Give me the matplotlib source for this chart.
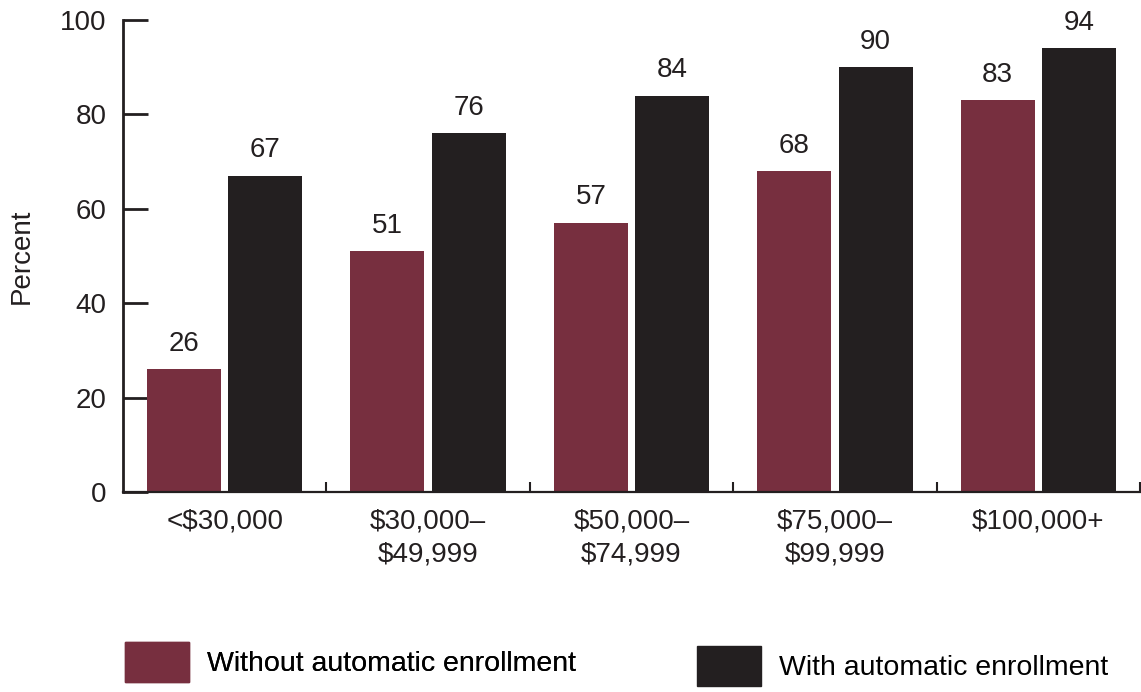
import numpy as np
import matplotlib
matplotlib.use("Agg")
import matplotlib.pyplot as plt
from matplotlib.patches import Patch

plt.rcParams['font.family'] = ['Liberation Sans', 'DejaVu Sans']

# data
categories = ["<$30,000", "$30,000–\n$49,999", "$50,000–\n$74,999",
              "$75,000–\n$99,999", "$100,000+"]
without_auto = [26, 51, 57, 68, 83]
with_auto = [67, 76, 84, 90, 94]
series_names = ["Without automatic enrollment", "With automatic enrollment"]
yticks = [0, 20, 40, 60, 80, 100]

c_maroon = '#772f3f'
c_black = '#231f20'
fs = 20

fig = plt.figure(figsize=(11.41, 6.92), dpi=100)
ax = fig.add_axes([123/1141, 1-492/692, (1140-123)/1141, (492-20)/692])

x = np.arange(len(categories))
w = 0.364
off = 0.2
b1 = ax.bar(x - off, without_auto, w, color=c_maroon, zorder=2)
b2 = ax.bar(x + off, with_auto, w, color=c_black, zorder=2)

for xi, v in zip(x - off, without_auto):
    ax.annotate(str(v), (xi, v), xytext=(0, 9), textcoords='offset points',
                ha='center', va='bottom', fontsize=fs, color=c_black)
for xi, v in zip(x + off, with_auto):
    ax.annotate(str(v), (xi, v), xytext=(0, 9), textcoords='offset points',
                ha='center', va='bottom', fontsize=fs, color=c_black)

ax.set_xlim(-0.5, len(categories) - 0.5)
ax.set_ylim(0, 100)
ax.set_yticks(yticks)
ax.tick_params(axis='y', direction='in', length=18, width=2,
               labelsize=fs, pad=12, colors=c_black)
ax.set_xticks(x)
ax.set_xticklabels(categories, fontsize=fs, color=c_black, linespacing=1.35)
ax.tick_params(axis='x', which='major', length=0, pad=12)
ax.set_xticks(np.arange(0.5, len(categories), 1.0), minor=True)
ax.tick_params(axis='x', which='minor', direction='in', length=7, width=1.5,
               color=c_black)

for s in ['top', 'right']:
    ax.spines[s].set_visible(False)
ax.spines['left'].set_linewidth(2)
ax.spines['bottom'].set_linewidth(1.6)
for s in ['left', 'bottom']:
    ax.spines[s].set_color(c_black)

ax.set_ylabel("Percent", fontsize=20, color=c_black, labelpad=18)

# legend, two separate entries
leg1 = fig.legend(handles=[Patch(color=c_maroon)], labels=[series_names[0]],
                  loc='center left', bbox_to_anchor=(125/1141, 1-662/692),
                  frameon=False, fontsize=20.5, handlelength=2.25, handleheight=1.75,
                  handletextpad=0.63, borderpad=0, borderaxespad=0)
leg2 = fig.legend(handles=[Patch(color=c_black)], labels=[series_names[1]],
                  loc='center left', bbox_to_anchor=(697/1141, 1-666/692),
                  frameon=False, fontsize=20.5, handlelength=2.25, handleheight=1.75,
                  handletextpad=0.63, borderpad=0, borderaxespad=0)
fig.add_artist(leg1)

fig.savefig("out.png", dpi=100)
